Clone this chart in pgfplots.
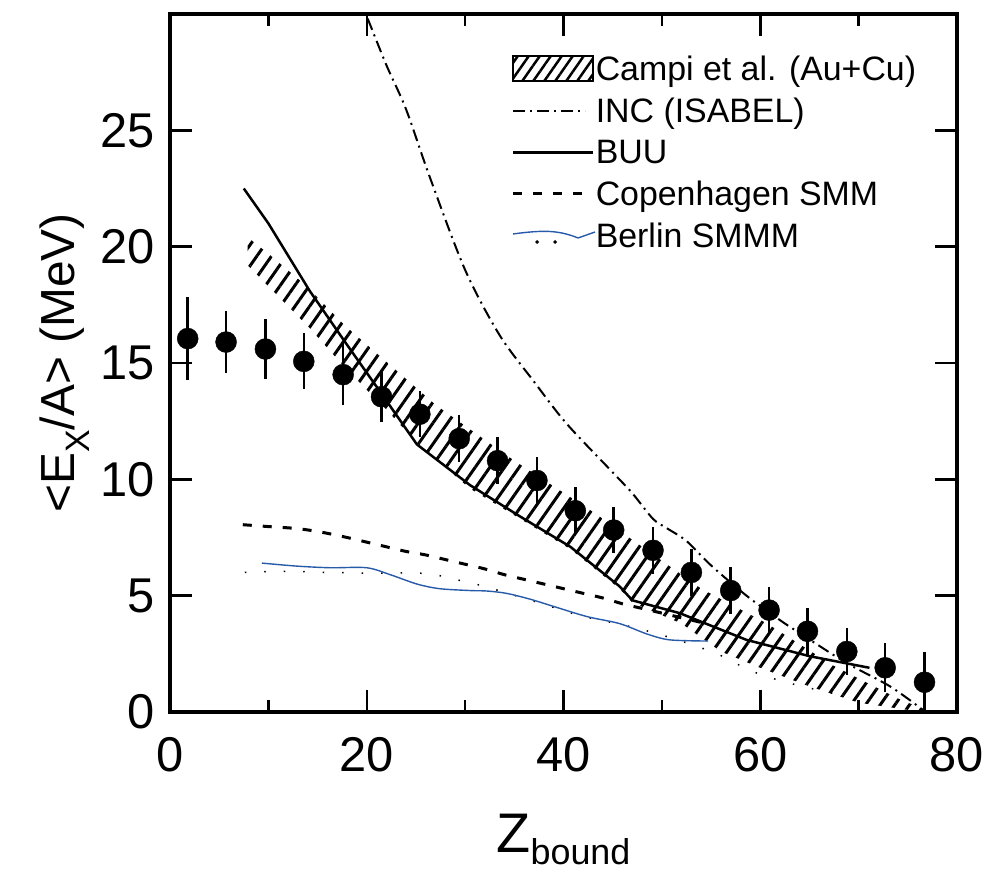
\documentclass[border=0pt]{standalone}
\usepackage{fontspec}
\setmainfont{Liberation Sans}
\usepackage{pgfplots}
\pgfplotsset{compat=1.18}
\usetikzlibrary{patterns.meta}

\definecolor{berlinblue}{RGB}{40,90,170}

\begin{document}
\begin{tikzpicture}
\path[use as bounding box] (0,0) rectangle (984bp,874bp);
\begin{axis}[
  scale only axis,
  width=787bp, height=698bp,
  at={(170bp,162bp)}, anchor=south west,
  xmin=0, xmax=80, ymin=0, ymax=30,
  xtick={0,20,...,80}, minor xtick={10,30,50,70},
  ytick={0,5,...,25},
  tick align=inside,
  major tick length=22bp, minor tick length=12bp,
  axis line style={line width=4bp},
  every tick/.style={black, line width=2.5bp},
  /pgf/number format/assume math mode=true,
  tick label style={font=\fontsize{49}{49}\selectfont},
  xticklabel shift=22bp,
  yticklabel shift=12bp,
  xlabel={Z\raisebox{-0.22em}{\fontsize{36}{36}\selectfont bound}},
  xlabel style={font=\fontsize{56}{56}\selectfont, inner sep=0pt,
    at={(axis description cs:0.5,0)}, anchor=base, yshift=-140bp},
  ylabel={<E\raisebox{-0.3em}{\fontsize{34}{34}\selectfont X}/A> (MeV)},
  ylabel style={font=\fontsize{48}{48}\selectfont, yshift=4bp},
  legend style={at={(0.43,0.945)}, anchor=north west, draw=none, fill=none,
    font=\fontsize{34}{34}\selectfont, row sep=16bp,
    nodes={inner sep=0pt}},
  legend cell align=left,
  /tikz/every even column/.append style={column sep=18bp},
]

% Campi et al. band (upper edge left to right, lower edge right to left)
\addplot[draw=none, pattern={Lines[angle=55,distance=12bp,line width=3bp]},
  legend image code/.code={\draw[line width=2bp, pattern={Lines[angle=55,distance=9bp,line width=2.5bp]}] (0bp,-12bp) rectangle (80bp,13bp);}]
  coordinates {
  (7.9,20.4) (10,19.7) (13.9,18.3) (17.8,16.6) (21.6,15.2) (27,13.2)
  (35,10.8) (43,8.6) (49,6.8) (54,5.3) (60.7,3.8) (67.4,2.0) (73.9,0.6) (77,0.05)
  (76.5,0.0) (70,0.4) (65,1.1) (60,1.9) (56,2.6) (52,3.8) (47,4.7) (45.7,5.3)
  (40.7,7.0) (35.6,8.3) (30.5,9.6) (25,11.6) (22,13.0) (18,14.7) (14.2,16.5)
  (10,18.3) (7.9,19.2)
  };
\addlegendentry{Campi et al. (Au+Cu)}

% INC (ISABEL)
\addplot[black, line width=2bp, smooth, dash pattern=on 12bp off 5bp on 2bp off 5bp,
  legend image code/.code={\draw[black, line width=2bp, dash pattern=on 12bp off 5bp on 2bp off 5bp] (0bp,0bp) -- (72bp,0bp);}]
  coordinates {
  (20.1,29.8) (22,27.8) (24,25.9) (26.4,23.0) (30,19.0) (33.5,16.2)
  (37,14.2) (40.3,12.4) (45,10.3) (47,9.4) (49.1,8.3) (50.5,7.9) (52.5,7.35)
  (55,6.3) (58.6,5.0) (62,3.95) (64.7,3.2) (68.8,2.1) (73.2,1.1) (76.5,0.1)
  };
\addlegendentry{INC (ISABEL)}

% BUU
\addplot[black, line width=2.5bp,
  legend image code/.code={\draw[black, line width=2.5bp] (0bp,0bp) -- (80bp,0bp);}]
  coordinates {
  (7.5,22.5) (10,21.0) (14.2,18.1) (17.8,15.9) (21.3,13.8) (25.1,11.5)
  (30.5,9.75) (35.6,8.4) (40.7,7.1) (45.7,5.4) (47,4.8) (51.8,4.25)
  (58.6,3.1) (65,2.4) (71.1,1.9)
  };
\addlegendentry{BUU}

% Copenhagen SMM
\addplot[black, line width=3bp, smooth, dash pattern=on 9bp off 11bp,
  legend image code/.code={\draw[black, line width=3bp, dash pattern=on 9bp off 11bp] (0bp,0bp) -- (72bp,0bp);}]
  coordinates {
  (7.4,8.05) (10,7.97) (13,7.88) (15.5,7.72) (18,7.5) (20,7.3) (22,7.1)
  (24,6.9) (26,6.75) (28,6.55) (30,6.35) (32,6.15) (34,5.9) (36,5.7)
  (38,5.5) (40,5.3) (42,5.1) (44,4.9) (46,4.65) (48,4.45) (50,4.25)
  (52,4.05) (54,3.85)
  };
\addlegendentry{Copenhagen SMM}

% Berlin SMMM: sparse dotted curve with a thin blue trace over it
\addplot[black, line width=1.5bp, smooth, dash pattern=on 1.5bp off 18bp, forget plot]
  coordinates {
  (7.6,6.0) (12,6.05) (16,6.0) (20,5.97) (26,5.95) (30,5.6) (32.2,5.37)
  (35.9,4.9) (37.9,4.64) (42,4.1) (43.7,3.95) (47.5,3.6) (51.6,3.1)
  (55.6,2.5) (58.9,1.8) (62,1.35) (65,1.03) (67.4,0.8)
  };
\addplot[berlinblue, line width=1.4bp, smooth,
  legend image code/.code={
    \draw[berlinblue, line width=1.4bp] (0bp,2bp) .. controls (30bp,6bp) and (45bp,6bp) .. (65bp,-2bp) -- (82bp,4bp);
    \fill[black] (24bp,-6bp) circle (1bp) (42bp,-6bp) circle (1bp);}]
  coordinates {
  (9.35,6.4) (12.9,6.27) (16.3,6.2) (20,6.2) (22.4,5.9) (25.1,5.5) (27.4,5.3)
  (30.5,5.22) (32.2,5.2) (34.2,5.1) (36.6,4.85) (38.9,4.55) (42.4,4.1)
  (45.7,3.8) (48.5,3.35) (50.8,3.1) (54.7,3.05)
  };
\addlegendentry{Berlin SMMM}

% measured points
\addplot[black, only marks, mark=*, mark size=10.5bp, forget plot,
  error bars/.cd, y dir=both, y explicit, error mark=none,
  error bar style={line width=2.5bp}]
  table[x=x, y=y, y error=e] {
  x    y     e
  1.8  16.05 1.8
  5.7  15.9  1.35
  9.7  15.6  1.3
  13.6 15.07 1.2
  17.6 14.5  1.3
  21.5 13.55 1.1
  25.4 12.8  1.0
  29.4 11.75 1.0
  33.3 10.8  1.0
  37.3 9.95  1.0
  41.2 8.65  1.0
  45.1 7.82  1.0
  49.1 6.95  1.0
  53.0 6.0   1.0
  57.0 5.22  1.0
  60.9 4.38  1.0
  64.8 3.47  1.0
  68.8 2.6   1.0
  72.7 1.9   1.05
  76.7 1.28  1.3
  };
\end{axis}
\end{tikzpicture}
\end{document}
